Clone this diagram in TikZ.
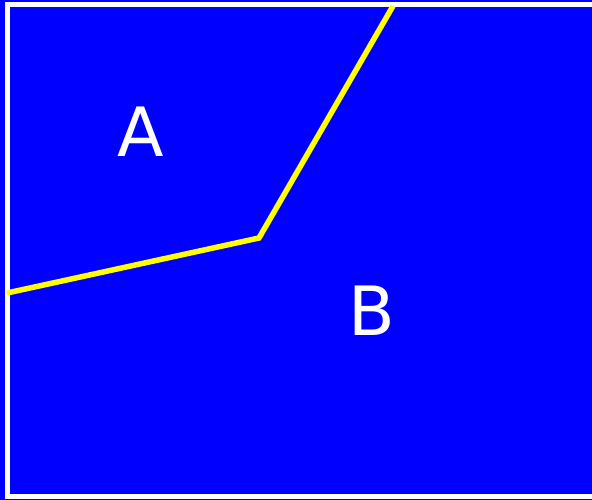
\documentclass[tikz,border=0pt]{standalone}
\usepackage{fontspec}
\setmainfont{DejaVu Sans}
\definecolor{bg}{RGB}{0,0,255}
\definecolor{yl}{RGB}{255,255,0}
\begin{document}
\begin{tikzpicture}[x=1pt,y=-1pt,
  frame/.style={draw=white,line width=5pt},
  divider/.style={draw=yl,line width=5.5pt,line join=miter},
  lbl/.style={text=white,font=\fontsize{68}{80}\selectfont,inner sep=0pt,anchor=base}]
\fill[bg] (0,0) rectangle (592,500);
\useasboundingbox (0,0) rectangle (592,500);
\draw[frame] (600,4.5) -- (7,4.5) -- (7,496) -- (600,496);
\coordinate (p1) at (7,293);
\coordinate (p2) at (259,238);
\coordinate (p3) at (393,6);
\draw[divider] (p1) -- (p2) -- (p3);
\node[lbl] (a) at (141,157) {A};
\node[lbl] (b) at (372,335) {B};
\end{tikzpicture}
\end{document}
